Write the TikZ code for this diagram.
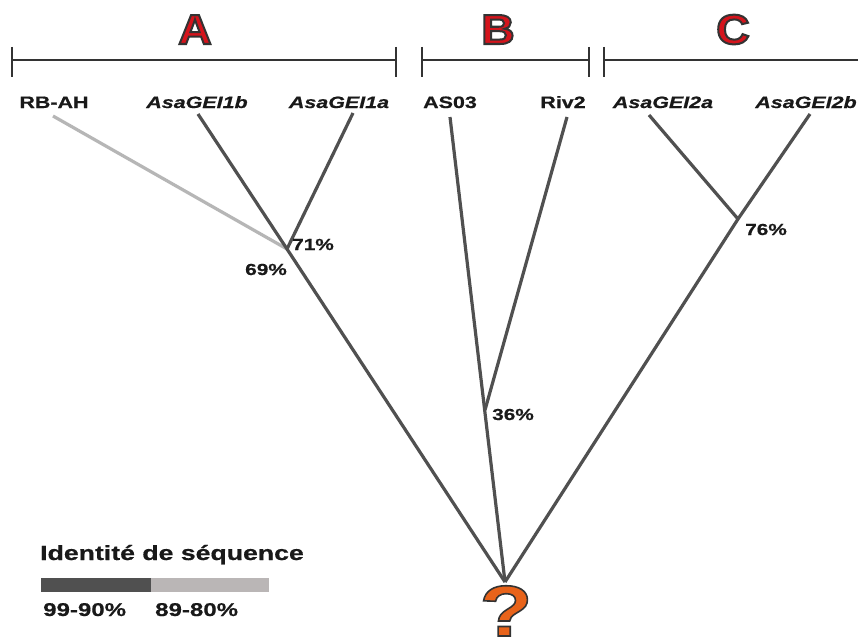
\documentclass[tikz,border=0pt]{standalone}
\usepackage{fontspec}
\setmainfont{Liberation Sans}
\newfontfamily\labfont[FakeStretch=1.3, BoldFeatures={FakeBold=0.6}, BoldItalicFeatures={FakeBold=0.6}]{Liberation Sans}
\newfontfamily\bigfont[FakeStretch=1.1]{Liberation Sans}
\newfontfamily\qfont[FakeStretch=1.2]{Liberation Sans}
\definecolor{branch}{HTML}{505050}
\definecolor{branchlight}{HTML}{B6B6B6}
\definecolor{bracketc}{HTML}{333333}
\definecolor{cladered}{HTML}{D4141C}
\definecolor{qorange}{HTML}{E8631A}
\definecolor{barlight}{HTML}{BAB6B6}
% fill the glyphs and stroke their outline in dark grey
\newcommand\outlinedtext[2]{\special{pdf:code q 2 Tr #1 w 0.2 0.2 0.2 RG}#2\special{pdf:code Q}}
\tikzset{
  taxon/.style={anchor=base, inner sep=0pt, font=\labfont\bfseries\fontsize{16.5}{18}\selectfont, text=black!90},
  taxonit/.style={taxon, font=\labfont\bfseries\itshape\fontsize{16.5}{18}\selectfont},
  pct/.style={anchor=base west, inner sep=0pt, font=\labfont\bfseries\fontsize{16}{18}\selectfont, text=black!90},
  clade/.style={anchor=base, inner sep=0pt, font=\bigfont\bfseries\fontsize{42}{42}\selectfont, text=cladered},
  br/.style={line width=3.2pt, draw=branch},
  brlight/.style={line width=3.2pt, draw=branchlight},
  bracket/.style={line width=2pt, draw=bracketc},
  legendtxt/.style={anchor=base west, inner sep=0pt, font=\labfont\bfseries\fontsize{18.5}{20}\selectfont, text=black!90},
}
\begin{document}
\begin{tikzpicture}[x=1pt, y=-1pt]
\useasboundingbox (0,0) rectangle (858,642);
\fill[white] (0,0) rectangle (858,642);

% clade brackets
\draw[bracket] (12,60) -- (396,60);
\draw[bracket] (12,47) -- (12,77);
\draw[bracket] (396,47) -- (396,77);
\draw[bracket] (422,60) -- (589,60);
\draw[bracket] (422,47) -- (422,77);
\draw[bracket] (589,47) -- (589,77);
\draw[bracket] (604,60) -- (860,60);
\draw[bracket] (604,47) -- (604,77);

\node[clade] (cA) at (195,44) {\outlinedtext{2}{A}};
\node[clade] (cB) at (498,44) {\outlinedtext{2}{B}};
\node[clade] (cC) at (733,44) {\outlinedtext{2}{C}};

% taxa
\node[taxon]   (rbah) at (54,108)  {RB-AH};
\node[taxonit] (g1b)  at (197,108) {AsaGEI1b};
\node[taxonit] (g1a)  at (339,108) {AsaGEI1a};
\node[taxon]   (as03) at (450,108) {AS03};
\node[taxon]   (riv2) at (563,108) {Riv2};
\node[taxonit] (g2a)  at (663,108) {AsaGEI2a};
\node[taxonit] (g2b)  at (806,108) {AsaGEI2b};

% branch tips
\coordinate (trbah) at (53,116);
\coordinate (t1b)   at (198,114);
\coordinate (t1a)   at (353,113);
\coordinate (tas03) at (450,117);
\coordinate (triv2) at (567,117);
\coordinate (t2a)   at (649,115);
\coordinate (t2b)   at (810,114);

% internal nodes
\coordinate (root) at (505,582);
\coordinate (nA)   at (287,249);
\coordinate (nB)   at (485,410);
\coordinate (nC)   at (738,219);

% branches
\draw[brlight] (trbah) -- (nA);
\draw[br] (t1a) -- (nA);
\draw[br] (t1b) -- (nA) -- (root);
\draw[br] (tas03) -- (root);
\draw[br] (triv2) -- (nB);
\draw[br] (t2a) -- (nC);
\draw[br] (t2b) -- (nC) -- (root);

% identity values
\node[pct] (p71) at (292,250) {71\%};
\node[pct] (p69) at (245,275) {69\%};
\node[pct] (p36) at (492,420) {36\%};
\node[pct] (p76) at (745,235) {76\%};

% unknown ancestor
\node[anchor=base, inner sep=0pt, font=\qfont\bfseries\fontsize{72}{72}\selectfont, text=qorange] (q) at (506,636) {\outlinedtext{1.6}{?}};

% legend
\node[legendtxt, font=\labfont\bfseries\fontsize{20.5}{22}\selectfont] (lt) at (40,560) {Identité de séquence};
\fill[branch] (41,578) rectangle (151,592);
\fill[barlight] (151,578) rectangle (269,592);
\node[legendtxt] (l1) at (43,616) {99-90\%};
\node[legendtxt] (l2) at (155,616) {89-80\%};
\end{tikzpicture}
\end{document}
